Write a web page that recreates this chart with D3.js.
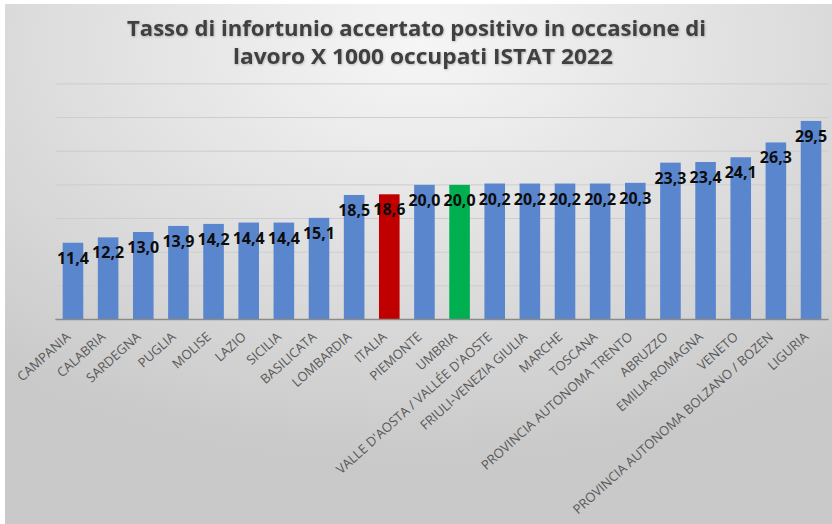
<!DOCTYPE html>
<html>
<head>
<meta charset="utf-8">
<script src="https://cdn.jsdelivr.net/npm/d3@7"></script>
<style>
  html, body { margin: 0; padding: 0; background: #ffffff; }
  svg { display: block; }
</style>
</head>
<body>
<svg id="chart" width="832" height="524"></svg>
<script>
const categories = ["CAMPANIA","CALABRIA","SARDEGNA","PUGLIA","MOLISE","LAZIO","SICILIA","BASILICATA","LOMBARDIA","ITALIA","PIEMONTE","UMBRIA","VALLE D'AOSTA / VALLÉE D'AOSTE","FRIULI-VENEZIA GIULIA","MARCHE","TOSCANA","PROVINCIA AUTONOMA TRENTO","ABRUZZO","EMILIA-ROMAGNA","VENETO","PROVINCIA AUTONOMA BOLZANO / BOZEN","LIGURIA"];
const values = [11.4,12.2,13.0,13.9,14.2,14.4,14.4,15.1,18.5,18.6,20.0,20.0,20.2,20.2,20.2,20.2,20.3,23.3,23.4,24.1,26.3,29.5];
const highlight = {"ITALIA": "#c00000", "UMBRIA": "#00b050"};
const yTicks = [0,5,10,15,20,25,30,35];
const titleLines = ["Tasso di infortunio accertato positivo in occasione di", "lavoro X 1000 occupati ISTAT 2022"];

const svg = d3.select("#chart");
const defs = svg.append("defs");
const grad = defs.append("radialGradient").attr("id","bg")
  .attr("cx","50%").attr("cy","8%").attr("r","80%").attr("fx","50%").attr("fy","8%");
grad.append("stop").attr("offset","0%").attr("stop-color","#f6f6f6");
grad.append("stop").attr("offset","50%").attr("stop-color","#e0e0e0");
grad.append("stop").attr("offset","100%").attr("stop-color","#c9c9c9");

const shadow = defs.append("filter").attr("id","ts").attr("x","-5%").attr("y","-20%").attr("width","110%").attr("height","150%");
shadow.append("feDropShadow").attr("dx",0.6).attr("dy",0.8).attr("stdDeviation",0.8).attr("flood-color","#000").attr("flood-opacity",0.25);

svg.append("rect").attr("x",5).attr("y",4).attr("width",827).attr("height",520).attr("fill","url(#bg)");

const x = d3.scaleBand().domain(categories).range([55.4, 828.6]).paddingInner(0.414).paddingOuter(0.207);
const y = d3.scaleLinear().domain([0,35]).range([319.5, 83.9]);

// gridlines
svg.append("g").selectAll("line").data(yTicks.filter(t => t > 0)).join("line")
  .attr("x1", 55.4).attr("x2", 828.6)
  .attr("y1", d => y(d)).attr("y2", d => y(d))
  .attr("stroke", "#cdcdcd").attr("stroke-width", 1);

// bars
svg.append("g").selectAll("rect").data(categories).join("rect")
  .attr("x", d => x(d)).attr("width", x.bandwidth())
  .attr("y", (d,i) => y(values[i])).attr("height", (d,i) => y(0) - y(values[i]))
  .attr("fill", d => highlight[d] || "#5a86cd");

// axis line
svg.append("line").attr("x1",55.4).attr("x2",828.6).attr("y1",y(0)).attr("y2",y(0))
  .attr("stroke","#8a8a8a").attr("stroke-width",1.5);

// data labels
const fmt = v => d3.format(".1f")(v).replace(".", ",");
svg.append("g").selectAll("text").data(categories).join("text")
  .attr("x", d => x(d) + x.bandwidth()/2)
  .attr("y", (d,i) => y(values[i]) + 21)
  .attr("text-anchor","middle")
  .attr("font-family","'Open Sans', sans-serif").attr("font-weight",700).attr("font-size",16)
  .attr("fill","#0d0d0d")
  .text((d,i) => fmt(values[i]));

// x labels
svg.append("g").selectAll("text").data(categories).join("text")
  .attr("transform", d => `translate(${x(d) + x.bandwidth()/2 - 8},${331}) rotate(-42)`)
  .attr("text-anchor","end").attr("dy","0.72em")
  .attr("font-family","'Open Sans', sans-serif").attr("font-size",13)
  .attr("fill","#595959")
  .text(d => d);

// title
const tg = svg.append("g").attr("filter","url(#ts)");
tg.append("text").attr("x",416.5).attr("y",36).attr("text-anchor","middle")
  .attr("font-family","'Open Sans', sans-serif").attr("font-weight",700).attr("font-size",21)
  .attr("fill","#404040").attr("textLength",579).attr("lengthAdjust","spacingAndGlyphs")
  .text(titleLines[0]);
tg.append("text").attr("x",423).attr("y",64).attr("text-anchor","middle")
  .attr("font-family","'Open Sans', sans-serif").attr("font-weight",700).attr("font-size",21)
  .attr("fill","#404040").attr("textLength",380).attr("lengthAdjust","spacingAndGlyphs")
  .text(titleLines[1]);
</script>
</body>
</html>
